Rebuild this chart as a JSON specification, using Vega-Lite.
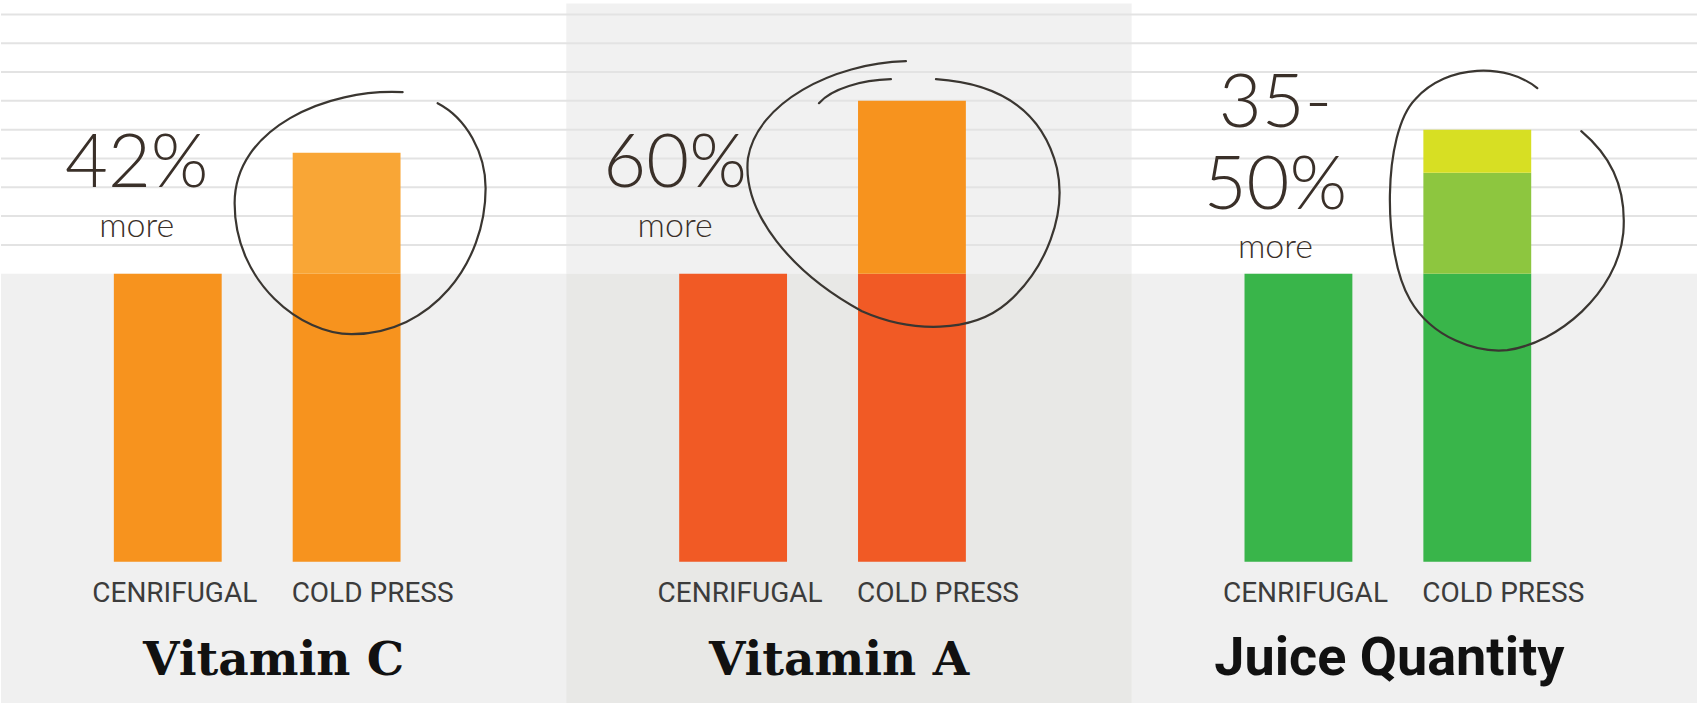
{
  "$schema": "https://vega.github.io/schema/vega-lite/v6.json",
  "width": 1698,
  "height": 703,
  "autosize": {"type": "fit", "contains": "padding"},
  "padding": 0,
  "background": "#ffffff",
  "config": {"view": {"stroke": null}},
  "datasets": {
    "bars": [
      {"group": "Vitamin C", "method": "CENRIFUGAL", "tone": "C base", "low": 0, "high": 100},
      {"group": "Vitamin C", "method": "COLD PRESS", "tone": "C base", "low": 0, "high": 100},
      {"group": "Vitamin C", "method": "COLD PRESS", "tone": "C gain", "low": 100, "high": 142},
      {"group": "Vitamin A", "method": "CENRIFUGAL", "tone": "A base", "low": 0, "high": 100},
      {"group": "Vitamin A", "method": "COLD PRESS", "tone": "A base", "low": 0, "high": 100},
      {"group": "Vitamin A", "method": "COLD PRESS", "tone": "A gain", "low": 100, "high": 160},
      {"group": "Juice Quantity", "method": "CENRIFUGAL", "tone": "J base", "low": 0, "high": 100},
      {"group": "Juice Quantity", "method": "COLD PRESS", "tone": "J base", "low": 0, "high": 100},
      {"group": "Juice Quantity", "method": "COLD PRESS", "tone": "J gain", "low": 100, "high": 135},
      {"group": "Juice Quantity", "method": "COLD PRESS", "tone": "J range", "low": 135, "high": 150}
    ],
    "panels": [
      {"group": "Vitamin C", "method": "COLD PRESS"},
      {"group": "Vitamin A", "method": "COLD PRESS"},
      {"group": "Juice Quantity", "method": "COLD PRESS"}
    ],
    "ruling": [
      {"line": 110}, {"line": 120}, {"line": 130}, {"line": 140}, {"line": 150},
      {"line": 160}, {"line": 170}, {"line": 180}, {"line": 190}
    ],
    "labels": [
      {"group": "Vitamin C", "method": "CENRIFUGAL"},
      {"group": "Vitamin C", "method": "COLD PRESS"},
      {"group": "Vitamin A", "method": "CENRIFUGAL"},
      {"group": "Vitamin A", "method": "COLD PRESS"},
      {"group": "Juice Quantity", "method": "CENRIFUGAL"},
      {"group": "Juice Quantity", "method": "COLD PRESS"}
    ],
    "notes": [
      {"group": "Vitamin C", "method": "CENRIFUGAL", "note": "42%", "kind": "figure", "level": 130.0},
      {"group": "Vitamin C", "method": "CENRIFUGAL", "note": "more", "kind": "word", "level": 112.6},
      {"group": "Vitamin A", "method": "CENRIFUGAL", "note": "60%", "kind": "figure", "level": 130.0},
      {"group": "Vitamin A", "method": "CENRIFUGAL", "note": "more", "kind": "word", "level": 112.8},
      {"group": "Juice Quantity", "method": "CENRIFUGAL", "note": "35-", "kind": "figure", "level": 150.8},
      {"group": "Juice Quantity", "method": "CENRIFUGAL", "note": "50%", "kind": "figure", "level": 122.3},
      {"group": "Juice Quantity", "method": "CENRIFUGAL", "note": "more", "kind": "word", "level": 105.6}
    ]
  },
  "layer": [
    {
      "data": {"name": "panels"},
      "mark": {"type": "rect", "fill": "#f0f0f0"},
      "encoding": {
        "x": {"field": "group", "type": "nominal", "sort": null, "scale": {"domain": ["Vitamin C", "Vitamin A", "Juice Quantity"], "paddingInner": 0, "paddingOuter": 0}, "axis": null},
        "y": {"datum": 100, "type": "quantitative", "scale": {"domain": [-49, 195], "nice": false, "zero": false}, "axis": null},
        "y2": {"datum": -49}
      }
    },
    {
      "data": {"name": "panels"},
      "transform": [{"filter": "datum.group === 'Vitamin A'"}],
      "mark": {"type": "rect", "fill": "#f1f1f1"},
      "encoding": {
        "x": {"field": "group", "type": "nominal", "sort": null, "scale": {"domain": ["Vitamin C", "Vitamin A", "Juice Quantity"], "paddingInner": 0, "paddingOuter": 0}, "axis": null},
        "y": {"datum": 193.8, "type": "quantitative", "axis": null},
        "y2": {"datum": 100}
      }
    },
    {
      "data": {"name": "panels"},
      "transform": [{"filter": "datum.group === 'Vitamin A'"}],
      "mark": {"type": "rect", "fill": "#e8e8e6"},
      "encoding": {
        "x": {"field": "group", "type": "nominal", "sort": null, "scale": {"domain": ["Vitamin C", "Vitamin A", "Juice Quantity"], "paddingInner": 0, "paddingOuter": 0}, "axis": null},
        "y": {"datum": 100, "type": "quantitative", "axis": null},
        "y2": {"datum": -49}
      }
    },
    {
      "data": {"name": "ruling"},
      "mark": {"type": "rule", "color": "#e3e3e3", "strokeWidth": 2},
      "encoding": {
        "x": {"value": 0},
        "x2": {"value": "width"},
        "y": {"field": "line", "type": "quantitative", "axis": null}
      }
    },
    {
      "data": {"name": "bars"},
      "mark": {"type": "bar"},
      "encoding": {
        "x": {"field": "group", "type": "nominal", "sort": null, "scale": {"domain": ["Vitamin C", "Vitamin A", "Juice Quantity"], "paddingInner": 0, "paddingOuter": 0}, "axis": null},
        "xOffset": {
          "field": "method",
          "type": "nominal",
          "scale": {"domain": ["CENRIFUGAL", "COLD PRESS"], "paddingInner": 0.397, "paddingOuter": 0.779, "align": 0.405}
        },
        "y": {"field": "low", "type": "quantitative", "axis": null},
        "y2": {"field": "high"},
        "color": {
          "field": "tone",
          "type": "nominal",
          "scale": {
            "domain": ["C base", "C gain", "A base", "A gain", "J base", "J gain", "J range"],
            "range": ["#f7931e", "#f9a636", "#f15a25", "#f7931e", "#39b54a", "#8dc63f", "#d7df23"]
          },
          "legend": null
        }
      }
    },
    {
      "data": {"name": "panels"},
      "mark": {"type": "point", "filled": false, "color": "#3a3631", "strokeWidth": 2.2, "opacity": 1, "size": 40000, "strokeCap": "round"},
      "encoding": {
        "x": {"field": "group", "type": "nominal", "sort": null, "scale": {"domain": ["Vitamin C", "Vitamin A", "Juice Quantity"], "paddingInner": 0, "paddingOuter": 0}, "axis": null},
        "xOffset": {"field": "method", "type": "nominal", "scale": {"domain": ["CENRIFUGAL", "COLD PRESS"], "paddingInner": 0.397, "paddingOuter": 0.779, "align": 0.405}},
        "y": {"datum": 121, "type": "quantitative", "axis": null},
        "shape": {
          "field": "group",
          "type": "nominal",
          "scale": {
            "domain": ["Vitamin C", "Vitamin A", "Juice Quantity"],
            "range": [
              "M 0.56 -1.21 C -0.2 -1.25 -1.12 -0.85 -1.12 -0.1 C -1.12 0.7 -0.45 1.21 0.05 1.21 C 0.85 1.21 1.39 0.5 1.39 -0.25 C 1.39 -0.6 1.2 -0.95 0.91 -1.1",
              "M -0.06 -1.52 C -0.8 -1.5 -1.55 -1.1 -1.64 -0.55 C -1.7 0.0 -1.2 0.6 -0.5 0.98 C 0.0 1.2 0.6 1.2 0.95 0.9 C 1.35 0.55 1.55 0.0 1.45 -0.45 C 1.3 -1.05 0.85 -1.3 0.24 -1.34 M -0.93 -1.1 C -0.8 -1.25 -0.5 -1.33 -0.21 -1.34",
              "M 0.6 -1.25 C 0.3 -1.5 -0.3 -1.5 -0.62 -1.14 C -0.95 -0.8 -0.95 0.4 -0.67 0.87 C -0.45 1.25 0.0 1.4 0.3 1.37 C 0.8 1.3 1.4 0.8 1.46 0.2 C 1.5 -0.3 1.3 -0.6 1.04 -0.82"
            ]
          },
          "legend": null
        }
      }
    },
    {
      "data": {"name": "labels"},
      "transform": [{"filter": "datum.method === 'CENRIFUGAL'"}],
      "mark": {"type": "text", "font": "Roboto", "fontSize": 28, "color": "#3c3c3c", "baseline": "alphabetic", "align": "center", "dx": 7},
      "encoding": {
        "x": {"field": "group", "type": "nominal", "sort": null, "scale": {"domain": ["Vitamin C", "Vitamin A", "Juice Quantity"], "paddingInner": 0, "paddingOuter": 0}, "axis": null},
        "xOffset": {"field": "method", "type": "nominal", "scale": {"domain": ["CENRIFUGAL", "COLD PRESS"], "paddingInner": 0.397, "paddingOuter": 0.779, "align": 0.405}},
        "y": {"datum": -13.9, "type": "quantitative", "axis": null},
        "text": {"field": "method"}
      }
    },
    {
      "data": {"name": "labels"},
      "transform": [{"filter": "datum.method === 'COLD PRESS'"}],
      "mark": {"type": "text", "font": "Roboto", "fontSize": 28, "color": "#3c3c3c", "baseline": "alphabetic", "align": "center", "dx": 26},
      "encoding": {
        "x": {"field": "group", "type": "nominal", "sort": null, "scale": {"domain": ["Vitamin C", "Vitamin A", "Juice Quantity"], "paddingInner": 0, "paddingOuter": 0}, "axis": null},
        "xOffset": {"field": "method", "type": "nominal", "scale": {"domain": ["CENRIFUGAL", "COLD PRESS"], "paddingInner": 0.397, "paddingOuter": 0.779, "align": 0.405}},
        "y": {"datum": -13.9, "type": "quantitative", "axis": null},
        "text": {"field": "method"}
      }
    },
    {
      "data": {"name": "panels"},
      "transform": [{"filter": "datum.group !== 'Juice Quantity'"}],
      "mark": {"type": "text", "font": "DejaVu Serif", "fontWeight": "bold", "fontSize": 47, "color": "#111111", "baseline": "alphabetic", "align": "center", "dx": -10},
      "encoding": {
        "x": {"field": "group", "type": "nominal", "sort": null, "scale": {"domain": ["Vitamin C", "Vitamin A", "Juice Quantity"], "paddingInner": 0, "paddingOuter": 0}, "axis": null},
        "y": {"datum": -39.3, "type": "quantitative", "axis": null},
        "text": {"field": "group"}
      }
    },
    {
      "data": {"name": "panels"},
      "transform": [{"filter": "datum.group === 'Juice Quantity'"}],
      "mark": {"type": "text", "font": "Roboto", "fontWeight": "bold", "fontSize": 54, "color": "#111111", "baseline": "alphabetic", "align": "center", "dx": -25},
      "encoding": {
        "x": {"field": "group", "type": "nominal", "sort": null, "scale": {"domain": ["Vitamin C", "Vitamin A", "Juice Quantity"], "paddingInner": 0, "paddingOuter": 0}, "axis": null},
        "y": {"datum": -39.3, "type": "quantitative", "axis": null},
        "text": {"field": "group"}
      }
    },
    {
      "data": {"name": "notes"},
      "transform": [{"filter": "datum.group === 'Vitamin C'"}],
      "mark": {"type": "text", "font": "Lato", "fontWeight": 300, "color": "#3a3029", "baseline": "alphabetic", "align": "center", "dx": -31},
      "encoding": {
        "x": {"field": "group", "type": "nominal", "sort": null, "scale": {"domain": ["Vitamin C", "Vitamin A", "Juice Quantity"], "paddingInner": 0, "paddingOuter": 0}, "axis": null},
        "xOffset": {"field": "method", "type": "nominal", "scale": {"domain": ["CENRIFUGAL", "COLD PRESS"], "paddingInner": 0.397, "paddingOuter": 0.779, "align": 0.405}},
        "y": {"field": "level", "type": "quantitative", "axis": null},
        "text": {"field": "note"},
        "size": {"field": "kind", "type": "nominal", "scale": {"domain": ["figure", "word"], "range": [74, 34]}, "legend": null}
      }
    },
    {
      "data": {"name": "notes"},
      "transform": [{"filter": "datum.group === 'Vitamin A'"}],
      "mark": {"type": "text", "font": "Lato", "fontWeight": 300, "color": "#3a3029", "baseline": "alphabetic", "align": "center", "dx": -58},
      "encoding": {
        "x": {"field": "group", "type": "nominal", "sort": null, "scale": {"domain": ["Vitamin C", "Vitamin A", "Juice Quantity"], "paddingInner": 0, "paddingOuter": 0}, "axis": null},
        "xOffset": {"field": "method", "type": "nominal", "scale": {"domain": ["CENRIFUGAL", "COLD PRESS"], "paddingInner": 0.397, "paddingOuter": 0.779, "align": 0.405}},
        "y": {"field": "level", "type": "quantitative", "axis": null},
        "text": {"field": "note"},
        "size": {"field": "kind", "type": "nominal", "scale": {"domain": ["figure", "word"], "range": [74, 34]}, "legend": null}
      }
    },
    {
      "data": {"name": "notes"},
      "transform": [{"filter": "datum.group === 'Juice Quantity'"}],
      "mark": {"type": "text", "font": "Lato", "fontWeight": 300, "color": "#3a3029", "baseline": "alphabetic", "align": "center", "dx": -23},
      "encoding": {
        "x": {"field": "group", "type": "nominal", "sort": null, "scale": {"domain": ["Vitamin C", "Vitamin A", "Juice Quantity"], "paddingInner": 0, "paddingOuter": 0}, "axis": null},
        "xOffset": {"field": "method", "type": "nominal", "scale": {"domain": ["CENRIFUGAL", "COLD PRESS"], "paddingInner": 0.397, "paddingOuter": 0.779, "align": 0.405}},
        "y": {"field": "level", "type": "quantitative", "axis": null},
        "text": {"field": "note"},
        "size": {"field": "kind", "type": "nominal", "scale": {"domain": ["figure", "word"], "range": [74, 34]}, "legend": null}
      }
    }
  ]
}
